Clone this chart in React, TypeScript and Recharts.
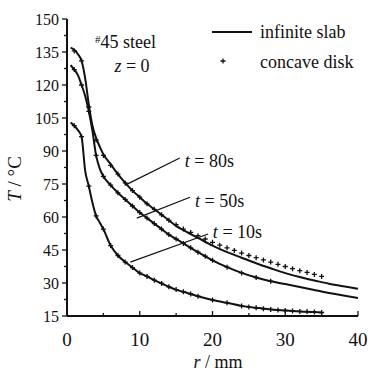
import React from 'react';
import { ComposedChart, Line, Scatter, XAxis, YAxis, ReferenceLine, ReferenceDot } from 'recharts';

// radius (mm) where the slab curves were read
const rSlab = [0.5, 1, 1.5, 2, 2.5, 3, 3.5, 4, 4.5, 5, 6, 7, 8, 9, 10, 11, 12, 13, 14, 15, 16, 18, 20, 22, 24, 26, 28, 30, 32, 34, 35, 36, 38, 40];
const tSlab80 = [137, 136, 134, 131, 123, 111, 101.5, 96, 92, 88.5, 84, 79.5, 75.5, 72, 69, 66, 63.5, 61, 58.5, 56, 54, 50.5, 47, 44, 41.5, 39, 36.7, 34.5, 32.7, 31.1, 30.4, 29.7, 28.5, 27.4];
const tSlab50 = [129, 127, 124.5, 120, 115, 108, 99, 88, 82, 78.5, 74.5, 71, 68, 65, 62, 59.5, 57, 54.5, 52, 50, 48, 44, 40.3, 37.2, 34.6, 32.5, 30.8, 29.5, 28.2, 26.8, 26.1, 25.5, 24.3, 23.2];
const tSlab10 = [103, 101.5, 99.5, 96.5, 81, 74, 66.5, 60.5, 57.5, 54.5, 47, 42.5, 39.5, 37, 34.5, 33, 31.3, 29.8, 28.3, 27, 26, 24, 22.3, 21, 19.6, 18.7, 18, 17.5, 17.1, 16.8, 16.6, null, null, null];

// concave disk points
const rDisk80 = [1, 2, 3, 4, 5, 6, 7, 8, 9, 10, 11, 12, 13, 14, 15, 16, 17, 18, 19, 20, 21, 22, 23, 24, 25, 26, 27, 28, 29, 30, 31, 32, 33, 34, 35];
const tDisk80 = [135.5, 131, 110, 95, 88, 83.5, 79.5, 75.5, 72, 69, 66, 63.5, 61, 58.5, 56.5, 54.5, 53, 51.5, 50, 48.5, 47.2, 46, 44.8, 43.6, 42.5, 41.5, 40.5, 39.5, 38.5, 37.5, 36.5, 35.6, 34.8, 33.9, 33];
const rDisk50 = [1, 2, 3, 4, 5, 6, 7, 8, 9, 10, 11, 12, 13, 14, 15, 16, 17, 18, 19, 20, 22, 24, 26, 28];
const tDisk50 = [127, 120, 108, 88, 78.5, 74.5, 71, 68, 65, 62, 59.5, 57, 54.5, 52, 50, 48, 46, 44, 42.2, 40.3, 37.2, 34.6, 32.5, 30.8];
const rDisk10 = [1, 2, 3, 4, 5, 6, 7, 8, 9, 10, 11, 12, 13, 14, 15, 16, 17, 18, 20, 22, 24, 25, 26, 27, 28, 29, 30, 31, 32, 33, 34, 35];
const tDisk10 = [101.5, 96.5, 74, 60.5, 54.5, 47, 42.5, 39.5, 37, 34.5, 33, 31.3, 29.8, 28.3, 27, 26, 25, 24, 22.3, 21, 19.6, 19.1, 18.7, 18.3, 18, 17.7, 17.5, 17.3, 17.1, 17, 16.8, 16.6];

const xTicks = [0, 5, 10, 15, 20, 25, 30, 35, 40];
const yTicks = [15, 22.5, 30, 37.5, 45, 52.5, 60, 67.5, 75, 82.5, 90, 97.5, 105, 112.5, 120, 127.5, 135, 142.5, 150];

// leader lines: [r1, T1, r2, T2]
const leaders = [
  [8.0, 74.5, 15.5, 86.8],
  [9.6, 59.5, 16.9, 69],
  [8.7, 39.5, 19.4, 52.3],
];
const timeLabels = [
  { r: 16.2, T: 82.7, text: '80s' },
  { r: 17.6, T: 64.5, text: '50s' },
  { r: 20.05, T: 50.5, text: '10s' },
];

const INK = '#111';
const FONT = '"Liberation Serif", "Times New Roman", serif';

const toPts = (rs: number[], ts: (number | null)[]) =>
  rs.map((r, i) => ({ r, T: ts[i] })).filter((p) => p.T !== null);

const slab80 = toPts(rSlab, tSlab80);
const slab50 = toPts(rSlab, tSlab50);
const slab10 = toPts(rSlab, tSlab10);
const disk80 = toPts(rDisk80, tDisk80);
const disk50 = toPts(rDisk50, tDisk50);
const disk10 = toPts(rDisk10, tDisk10);

const Plus = (props: any) => {
  const { cx, cy } = props;
  if (cx == null || cy == null) return null;
  return <path d={`M${cx - 2.5},${cy}h5M${cx},${cy - 2.5}v5`} stroke={INK} strokeWidth={1.3} />;
};

const XTick = (props: any) => {
  const { x, y, payload } = props;
  const major = payload.value % 10 === 0;
  return (
    <g>
      <line x1={x} y1={y} x2={x} y2={y - (major ? 5 : 3)} stroke={INK} strokeWidth={1.3} />
      {major && (
        <text x={x} y={y + 30} textAnchor="middle" fontSize={19} fill={INK} fontFamily={FONT}>
          {payload.value}
        </text>
      )}
    </g>
  );
};

const YTick = (props: any) => {
  const { x, y, payload } = props;
  const major = payload.value % 15 === 0;
  return (
    <g>
      <line x1={x} y1={y} x2={x - (major ? 5 : 3)} y2={y} stroke={INK} strokeWidth={1.3} />
      {major && (
        <text x={x - 8} y={y + 6} textAnchor="end" fontSize={16} fill={INK} fontFamily={FONT}>
          {payload.value}
        </text>
      )}
    </g>
  );
};

const TimeLabel = (props: any) => {
  const { viewBox, text } = props;
  return (
    <text x={viewBox.x} y={viewBox.y} fontSize={18} fill={INK} fontFamily={FONT}>
      <tspan fontStyle="italic">t</tspan> = {text}
    </text>
  );
};

export default function App() {
  return (
    <div style={{ position: 'absolute', left: 0, top: 0, width: 371, height: 375, background: '#fff' }}>
      <ComposedChart width={371} height={375} margin={{ top: 19, right: 13, bottom: 0, left: 0 }}>
        <XAxis
          type="number"
          dataKey="r"
          domain={[0, 40]}
          ticks={xTicks}
          height={59}
          tickSize={0}
          tickMargin={0}
          tickLine={false}
          tick={<XTick />}
          axisLine={{ stroke: INK, strokeWidth: 2 }}
          allowDataOverflow
          interval={0}
        />
        <YAxis
          type="number"
          dataKey="T"
          domain={[15, 150]}
          ticks={yTicks}
          width={67}
          tickSize={0}
          tickMargin={0}
          tickLine={false}
          tick={<YTick />}
          axisLine={{ stroke: INK, strokeWidth: 2 }}
          allowDataOverflow
          interval={0}
        />
        <Line data={slab80} dataKey="T" type="monotone" stroke={INK} strokeWidth={2} dot={false} isAnimationActive={false} />
        <Line data={slab50} dataKey="T" type="monotone" stroke={INK} strokeWidth={2} dot={false} isAnimationActive={false} />
        <Line data={slab10} dataKey="T" type="monotone" stroke={INK} strokeWidth={2} dot={false} isAnimationActive={false} />
        <Scatter data={disk80} dataKey="T" shape={<Plus />} isAnimationActive={false} />
        <Scatter data={disk50} dataKey="T" shape={<Plus />} isAnimationActive={false} />
        <Scatter data={disk10} dataKey="T" shape={<Plus />} isAnimationActive={false} />
        {leaders.map((l, i) => (
          <ReferenceLine
            key={i}
            segment={[{ x: l[0], y: l[1] }, { x: l[2], y: l[3] }]}
            stroke={INK}
            strokeWidth={1.2}
          />
        ))}
        {timeLabels.map((t) => (
          <ReferenceDot key={t.text} x={t.r} y={t.T} r={0} stroke="none" label={<TimeLabel text={t.text} />} />
        ))}
      </ComposedChart>
      <svg
        width={371}
        height={375}
        style={{ position: 'absolute', left: 0, top: 0, pointerEvents: 'none' }}
        fontFamily={FONT}
        fill={INK}
      >
        <text x={95} y={48} fontSize={18}>
          <tspan fontSize={11} dy={-5}>#</tspan>
          <tspan dy={5}>45 steel</tspan>
        </text>
        <text x={132} y={72} fontSize={18} textAnchor="middle">
          <tspan fontStyle="italic">z</tspan> = 0
        </text>
        <line x1={212} y1={32} x2={252} y2={32} stroke={INK} strokeWidth={2} />
        <text x={260} y={38} fontSize={18}>infinite slab</text>
        <path d="M220.5,61h5M223,58.5v5" stroke={INK} strokeWidth={1.3} />
        <text x={260} y={68} fontSize={18}>concave disk</text>
        <text x={218} y={368} fontSize={18} textAnchor="middle">
          <tspan fontStyle="italic">r</tspan> / mm
        </text>
        <text x={21} y={179} fontSize={19} textAnchor="middle" transform="rotate(-90 21 179)">
          <tspan fontStyle="italic">T</tspan> / °C
        </text>
      </svg>
    </div>
  );
}
